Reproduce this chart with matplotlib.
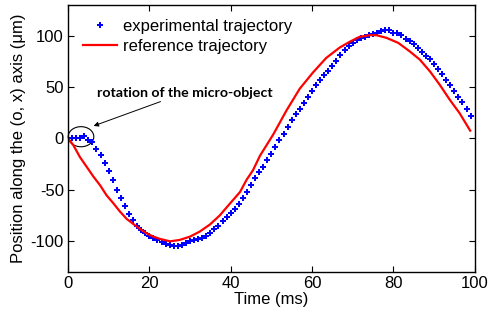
import matplotlib
matplotlib.use("Agg")
import matplotlib.pyplot as plt
from matplotlib.patches import Ellipse
import numpy as np

plt.rcParams['font.family'] = ['Liberation Sans', 'DejaVu Sans']
plt.rcParams['axes.unicode_minus'] = False

# Experimental trajectory (sampled every 1 ms)
exp_t = list(range(0, 100))
exp_x = [0, 0, 0, 0, 2, -2, -4, -10, -16, -24,
         -32, -41, -50, -58, -66, -74, -80, -85, -89, -92,
         -95, -97, -99, -101, -103, -104, -105, -104.5, -103.5, -102,
         -100.5, -99, -98, -97, -95, -92, -88, -85.5, -81, -77,
         -72.5, -68.5, -64, -58, -52, -45, -38.5, -33, -27.5, -21,
         -15, -8, -2, 4.5, 11, 17.5, 23.5, 29, 34.5, 40.5,
         46, 52, 57, 62, 66, 70.5, 75, 81, 86, 90,
         93, 95.5, 97.5, 99, 100.3, 101.3, 103, 104.5, 105.2, 105.5,
         103, 103, 100.3, 97, 95, 91.5, 88, 84.5, 80.5, 77,
         72.5, 67.5, 62.5, 57, 52, 46.5, 40, 35, 28.5, 22]

# Reference trajectory
ref_t = [0, 1.3, 2.9, 4.6, 6.2, 7.9, 9.5, 11.1, 12.7, 14.4, 16, 17.6, 19.3, 21,
         22.6, 25.1, 27.5, 30, 32.4, 34.9, 37.3, 39.8, 42.3, 43.9, 45.5, 47.2,
         50.5, 53.7, 57, 60.3, 63.5, 66.8, 69.3, 71.7, 74.2, 75.8, 78.3, 81.2,
         84, 86.5, 89, 91.4, 93.9, 96.3, 98.9]
ref_x = [0, -6.5, -18, -27.8, -37, -45.8, -55.6, -63, -71, -78.4, -83.3, -88,
         -92.5, -95.8, -98, -100.4, -99, -95.8, -90.9, -84, -75.2, -63.7, -52.3,
         -40.5, -31, -17, 4, 27, 48.5, 64.5, 78.4, 88.5, 94.2, 99, 100.6, 100.6,
         98, 93.1, 84.9, 76.8, 65.3, 52.3, 37.5, 24.5, 7.5]

xticks = [0, 20, 40, 60, 80, 100]
yticks = [-100, -50, 0, 50, 100]

FS = 12

fig = plt.figure(figsize=(4.88, 3.17), dpi=100)
ax = fig.add_axes([0.1393, 0.1429, 0.9727 - 0.1393, 0.9842 - 0.1429])

ax.plot(exp_t, exp_x, linestyle='none', marker='P', markersize=4.5,
        color='#0000ff', markeredgewidth=0, label='experimental trajectory')
ax.plot(ref_t, ref_x, color='#ff0000', linewidth=1.6, label='reference trajectory')

ax.set_xlim(0, 100)
ax.set_ylim(-130, 130)
ax.set_xticks(xticks)
ax.set_yticks(yticks)
ax.tick_params(direction='in', top=True, right=True, length=4, width=0.8,
               labelsize=FS, pad=3)
for s in ax.spines.values():
    s.set_linewidth(1.0)

ax.set_xlabel('Time (ms)', fontsize=FS, labelpad=1)
ax.set_ylabel('Position along the (o, x) axis (μm)', fontsize=FS, labelpad=3)

leg = ax.legend(loc='upper left', frameon=False, fontsize=FS,
                bbox_to_anchor=(0.003, 1.0), handlelength=2.0, handletextpad=0.35,
                labelspacing=0.3, borderaxespad=0.45, borderpad=0.4)

ell = Ellipse((3.2, 1.6), width=6.3, height=19.6, fill=False, edgecolor='black',
              linewidth=0.8, clip_on=False)
ax.add_patch(ell)
ax.annotate('rotation of the micro-object', xy=(6.3, 12.1), xytext=(7.1, 44.4),
            fontsize=10.2, fontweight='bold', family=['Lato', 'DejaVu Sans'],
            va='center', ha='left',
            arrowprops=dict(arrowstyle='-|>', color='black', lw=0.7,
                            mutation_scale=7, shrinkA=0, shrinkB=0),
            )

fig.savefig('out.png', dpi=100)
